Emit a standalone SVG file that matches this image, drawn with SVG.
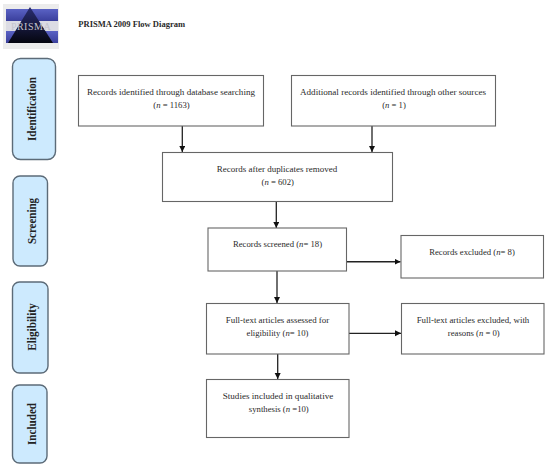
<svg xmlns="http://www.w3.org/2000/svg" width="550" height="467" viewBox="0 0 550 467">
<style>
text{font-family:"Liberation Serif","Times New Roman",serif;font-size:9px;fill:#2a2a2a;text-anchor:middle}
.i{font-style:italic}
.s{font-size:8.700px}
.box{fill:#fff;stroke:#666;stroke-width:1.1}
.ph{fill:#cdeafe;stroke:#5c6b78;stroke-width:1.4}
.phl{font-size:11.500px;font-weight:bold;fill:#222}
.c{stroke:#222;stroke-width:1.3;fill:none;marker-end:url(#a)}
</style>
<defs>
<marker id="a" markerUnits="userSpaceOnUse" markerWidth="7" markerHeight="7" refX="6" refY="3" orient="auto"><path d="M0 0L6 3L0 6z" fill="#111"/></marker>
<linearGradient id="b1" x1="0" y1="0" x2="0" y2="1"><stop offset="0" stop-color="#5a62c4"/><stop offset="1" stop-color="#3a3f9c"/></linearGradient>
<linearGradient id="b2" x1="0" y1="0" x2="0" y2="1"><stop offset="0" stop-color="#2a2e72"/><stop offset="1" stop-color="#05060f"/></linearGradient>
</defs>
<g id="logo">
<rect x="3" y="4" width="56" height="45" fill="#ececec"/>
<rect x="6" y="9" width="52" height="12" fill="url(#b1)"/>
<rect x="6" y="31" width="52" height="12" fill="url(#b1)"/>
<rect x="6" y="21" width="52" height="10" fill="#dcdce4"/>
<path d="M30 7L53 43H8z" fill="url(#b2)"/>
<text x="31" y="29.500" style="font-size:10px;fill:#c4c4ce;letter-spacing:0.500px">PRISMA</text>
</g>
<text id="title" x="131.700" y="27" style="font-weight:bold;font-size:8.500px" textLength="106.700" lengthAdjust="spacingAndGlyphs">PRISMA 2009 Flow Diagram</text>
<g id="phase-identification"><rect class="ph" x="12.500" y="58.500" width="43" height="101" rx="8"/><text class="phl" transform="translate(36 109) rotate(-90)" textLength="64" lengthAdjust="spacingAndGlyphs">Identification</text></g>
<g id="phase-screening"><rect class="ph" x="13" y="176" width="34.500" height="90" rx="7"/><text class="phl" transform="translate(36 221) rotate(-90)" textLength="46" lengthAdjust="spacingAndGlyphs">Screening</text></g>
<g id="phase-eligibility"><rect class="ph" x="12.500" y="282" width="35.500" height="91" rx="7"/><text class="phl" transform="translate(36 327) rotate(-90)" textLength="47.500" lengthAdjust="spacingAndGlyphs">Eligibility</text></g>
<g id="phase-included"><rect class="ph" x="12.500" y="385" width="34.500" height="78" rx="7"/><text class="phl" transform="translate(35.500 424) rotate(-90)" textLength="42" lengthAdjust="spacingAndGlyphs">Included</text></g>
<g id="connectors">
<path class="c" d="M182.300 126V152"/>
<path class="c" d="M372 126V152"/>
<path class="c" d="M276.300 201V228"/>
<path class="c" d="M277 271V303"/>
<path class="c" style="stroke-width:1.600" d="M347 261.700H400.500"/>
<path class="c" d="M277.700 354V379"/>
<path class="c" d="M349 333.300H401"/>
</g>
<g id="n1"><rect class="box" x="78.500" y="75.500" width="185" height="50.500"/><text x="171" y="94.500" textLength="168" lengthAdjust="spacingAndGlyphs">Records identified through database searching</text><text class="s" x="171.500" y="108">(<tspan class="i">n</tspan> = 1163)</text></g>
<g id="n2"><rect class="box" x="291.500" y="75.500" width="204" height="50.500"/><text x="393" y="94.500" textLength="186" lengthAdjust="spacingAndGlyphs">Additional records identified through other sources</text><text class="s" x="394" y="108">(<tspan class="i">n</tspan> = 1)</text></g>
<g id="n3"><rect class="box" x="162.500" y="152.500" width="230" height="49"/><text x="277" y="171.500" textLength="120.500" lengthAdjust="spacingAndGlyphs">Records after duplicates removed</text><text class="s" x="277.700" y="185">(<tspan class="i">n</tspan> = 602)</text></g>
<g id="n4"><rect class="box" x="208" y="228" width="138.500" height="43"/><text class="s" x="277.500" y="247">Records screened (<tspan class="i">n</tspan>= 18)</text></g>
<g id="n5"><rect class="box" x="401" y="235.500" width="142.500" height="42.500"/><text class="s" x="472" y="254.500">Records excluded (<tspan class="i">n</tspan>= 8)</text></g>
<g id="n6"><rect class="box" x="206.500" y="303.500" width="142.500" height="50.500"/><text x="277.500" y="322.500" textLength="103.500" lengthAdjust="spacingAndGlyphs">Full-text articles assessed for</text><text class="s" x="277.500" y="336">eligibility (<tspan class="i">n</tspan>= 10)</text></g>
<g id="n7"><rect class="box" x="401.500" y="303.500" width="142.500" height="50.500"/><text x="473" y="322.500" textLength="112.600" lengthAdjust="spacingAndGlyphs">Full-text articles excluded, with</text><text class="s" x="473.800" y="336">reasons (<tspan class="i">n</tspan> = 0)</text></g>
<g id="n8"><rect class="box" x="206.500" y="379.500" width="142.500" height="58"/><text x="278" y="398.500" textLength="110.600" lengthAdjust="spacingAndGlyphs">Studies included in qualitative</text><text class="s" x="278.800" y="412">synthesis (<tspan class="i">n</tspan> =10)</text></g>
</svg>
